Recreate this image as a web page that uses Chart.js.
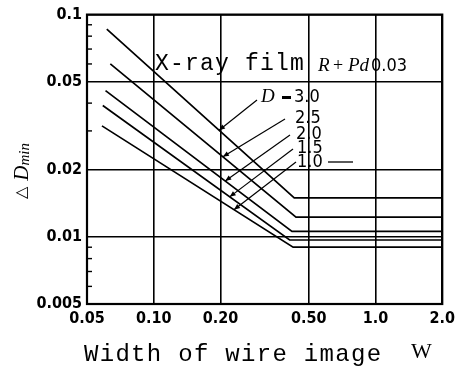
<!DOCTYPE html>
<html><head><meta charset="utf-8">
<script src="https://cdn.jsdelivr.net/npm/chart.js@4"></script>
<style>html,body{margin:0;padding:0;background:#fff;} canvas{display:block}</style>
</head><body>
<canvas id="c" width="460" height="369"></canvas>
<script>
// ---- data ----
const densityLabels = ['3.0', '2.5', '2.0', '1.5', '1.0'];
const startWidth   = [0.0614, 0.0637, 0.0606, 0.0589, 0.0584];
const startDmin    = [0.086, 0.060, 0.0455, 0.039, 0.0316];
const kneeWidth    = [0.43, 0.438, 0.42, 0.41, 0.425];
const plateauDmin  = [0.015, 0.0123, 0.0106, 0.0097, 0.0090];
const endWidth     = 2.0;
const xTicks       = [0.05, 0.1, 0.2, 0.5, 1.0, 2.0];
const xTickLabels  = ['0.05', '0.10', '0.20', '0.50', '1.0', '2.0'];
const yTicks       = [0.005, 0.01, 0.02, 0.05, 0.1];
const yTickLabels  = ['0.005', '0.01', '0.02', '0.05', '0.1'];
const yMinorTicks  = [0.006, 0.007, 0.008, 0.009, 0.03, 0.04, 0.06, 0.07, 0.08, 0.09];
const leaderTipWidth = [0.197, 0.205, 0.21, 0.22, 0.23];

const condensed = "'Liberation Sans Narrow','DejaVu Sans Condensed','Arial Narrow',sans-serif";

const datasets = densityLabels.map((d, i) => ({
  label: 'D = ' + d,
  data: [
    {x: startWidth[i], y: startDmin[i]},
    {x: kneeWidth[i], y: plateauDmin[i]},
    {x: endWidth, y: plateauDmin[i]}
  ],
  borderColor: '#000', borderWidth: 1.7, pointRadius: 0, tension: 0, fill: false
}));

function curvePoint(i, w) {
  const t = (Math.log(w) - Math.log(startWidth[i])) / (Math.log(kneeWidth[i]) - Math.log(startWidth[i]));
  return Math.exp(Math.log(startDmin[i]) + t * (Math.log(plateauDmin[i]) - Math.log(startDmin[i])));
}

const leaderStarts = [[257, 100], [285, 119], [290, 135], [293, 149], [296, 162]];

const deco = {
  id: 'deco',
  afterDraw(chart) {
    const ctx = chart.ctx, a = chart.chartArea;
    const xs = chart.scales.x, ys = chart.scales.y;
    ctx.save();
    ctx.strokeStyle = '#000'; ctx.fillStyle = '#000';
    // frame
    ctx.lineWidth = 2.2;
    ctx.strokeRect(a.left, a.top, a.right - a.left, a.bottom - a.top);
    // minor ticks on left axis
    ctx.lineWidth = 1.4;
    yMinorTicks.forEach(v => {
      const y = ys.getPixelForValue(v);
      ctx.beginPath(); ctx.moveTo(a.left, y); ctx.lineTo(a.left + 5, y); ctx.stroke();
    });
    // leaders with arrows
    ctx.lineWidth = 1.2;
    leaderTipWidth.forEach((w, i) => {
      const tx = xs.getPixelForValue(w), ty = ys.getPixelForValue(curvePoint(i, w));
      const [sx, sy] = leaderStarts[i];
      ctx.beginPath(); ctx.moveTo(sx, sy); ctx.lineTo(tx, ty); ctx.stroke();
      const ang = Math.atan2(ty - sy, tx - sx);
      ctx.beginPath();
      ctx.moveTo(tx, ty);
      ctx.lineTo(tx - 6 * Math.cos(ang) + 2.5 * Math.sin(ang), ty - 6 * Math.sin(ang) - 2.5 * Math.cos(ang));
      ctx.lineTo(tx - 6 * Math.cos(ang) - 2.5 * Math.sin(ang), ty - 6 * Math.sin(ang) + 2.5 * Math.cos(ang));
      ctx.closePath(); ctx.fill();
    });
    // trailing dash after 1.0 label
    ctx.lineWidth = 1.3;
    ctx.beginPath(); ctx.moveTo(328, 162); ctx.lineTo(353, 162); ctx.stroke();

    ctx.textBaseline = 'middle'; ctx.textAlign = 'left';
    // X-ray film
    ctx.font = '23px "Liberation Mono", monospace';
    ctx.letterSpacing = '1.2px';
    ctx.fillText('X-ray film', 155, 64);
    ctx.letterSpacing = '0px';
    ctx.font = 'italic 19px "Liberation Serif", serif';
    ctx.fillText('R', 318, 66);
    ctx.font = '18px "Liberation Serif", serif';
    ctx.fillText('+', 333, 66);
    ctx.font = 'italic 19px "Liberation Serif", serif';
    ctx.fillText('Pd', 348, 66);
    ctx.font = '18px ' + condensed;
    ctx.fillText('0.03', 371, 66);

    // D labels
    ctx.font = 'italic 19px "Liberation Serif", serif';
    ctx.fillText('D', 261, 97);
    ctx.fillRect(282, 96, 9, 3);
    ctx.font = '18px ' + condensed;
    ctx.fillText('3.0', 294, 97);
    const lblPos = [null, [295, 118], [296, 134], [297, 148], [297, 162]];
    for (let i = 1; i < densityLabels.length; i++) {
      ctx.fillText(densityLabels[i], lblPos[i][0], lblPos[i][1]);
    }

    // x title
    ctx.font = '24px "Liberation Mono", monospace';
    ctx.letterSpacing = '1.3px';
    ctx.fillText('Width of wire image', 84, 355);
    ctx.letterSpacing = '0px';
    ctx.font = '22px "Liberation Serif", serif';
    ctx.fillText('W', 411, 352);

    // y title (rotated)
    ctx.translate(22, 172);
    ctx.rotate(-Math.PI / 2);
    ctx.textAlign = 'left';
    ctx.font = '16px "DejaVu Sans", sans-serif';
    let x0 = -27;
    ctx.fillText('\u25B3', x0, 0);
    x0 += ctx.measureText('\u25B3').width + 6;
    ctx.font = 'italic 21px "Liberation Serif", serif';
    ctx.fillText('D', x0, 0);
    x0 += ctx.measureText('D').width;
    ctx.font = 'italic 15px "Liberation Serif", serif';
    ctx.fillText('min', x0, 3);
    ctx.restore();
  }
};

new Chart(document.getElementById('c'), {
  type: 'line',
  data: {datasets},
  options: {
    responsive: false, animation: false,
    layout: {padding: {top: 14, right: 11, left: 0, bottom: 0}},
    plugins: {legend: {display: false}, tooltip: {enabled: false}},
    scales: {
      x: {
        type: 'logarithmic', min: 0.05, max: 2.0,
        afterBuildTicks: s => { s.ticks = xTicks.map(v => ({value: v})); },
        afterFit: s => { s.height = 65; },
        ticks: {
          autoSkip: false, maxRotation: 0, padding: 5, color: '#000',
          font: {family: condensed, size: 16, weight: 'bold'},
          callback: (v, i) => xTickLabels[i]
        },
        grid: {color: '#000', lineWidth: 1.6, drawTicks: false},
        border: {display: false}
      },
      y: {
        type: 'logarithmic', min: 0.005, max: 0.1,
        afterBuildTicks: s => { s.ticks = yTicks.map(v => ({value: v})); },
        afterFit: s => { s.width = 87; },
        ticks: {
          autoSkip: false, padding: 5, color: '#000',
          font: {family: condensed, size: 16, weight: 'bold'},
          callback: (v, i) => yTickLabels[i]
        },
        grid: {color: '#000', lineWidth: 1.6, drawTicks: false},
        border: {display: false}
      }
    }
  },
  plugins: [deco]
});
</script>
</body></html>
